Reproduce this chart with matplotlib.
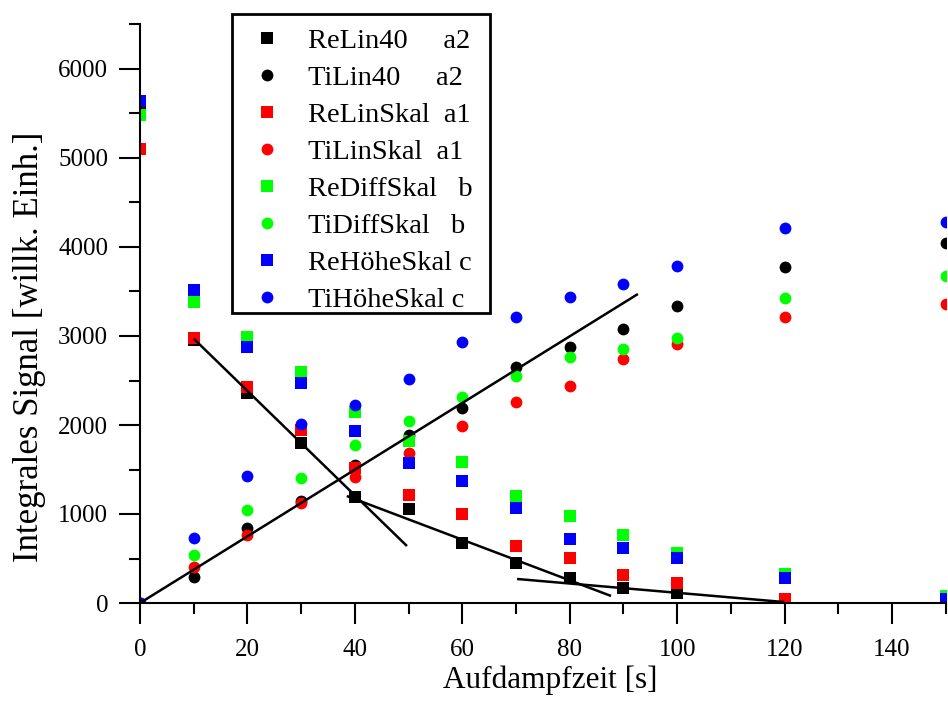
import matplotlib
matplotlib.use("Agg")
from matplotlib import pyplot as plt
from matplotlib.patches import Rectangle
from matplotlib.ticker import MultipleLocator

plt.rcParams['font.family'] = ['Liberation Serif', 'DejaVu Serif']

# Aufdampfzeit [s]
times = [0, 10, 20, 30, 40, 50, 60, 70, 80, 90, 100, 120, 150]

# integrated signal
re_lin40 = [5580, 2960, 2360, 1798, 1191, 1056, 674, 449, 281, 169, 112, 10, 5]
ti_lin40 = [0, 292, 843, 1146, 1551, 1888, 2191, 2652, 2876, 3079, 3337, 3775, 4045]
re_lin_skal = [5101, 2978, 2427, 1944, 1517, 1213, 1000, 640, 506, 315, 225, 40, 10]
ti_lin_skal = [0, 404, 764, 1124, 1416, 1685, 1989, 2258, 2438, 2742, 2910, 3213, 3360]
re_diff_skal = [5483, 3385, 2989, 2596, 2146, 1820, 1584, 1202, 978, 764, 562, 326, 80]
ti_diff_skal = [0, 539, 1045, 1404, 1775, 2045, 2315, 2551, 2764, 2854, 2978, 3427, 3674]
re_hoehe_skal = [5640, 3517, 2876, 2472, 1933, 1573, 1371, 1067, 719, 618, 506, 281, 40]
ti_hoehe_skal = [0, 730, 1427, 2011, 2225, 2517, 2933, 3213, 3438, 3584, 3787, 4213, 4281]

labels = ['ReLin40     a2', 'TiLin40     a2', 'ReLinSkal  a1', 'TiLinSkal  a1',
          'ReDiffSkal   b', 'TiDiffSkal   b', 'ReHöheSkal c', 'TiHöheSkal c']

# straight fit segments drawn on top (start/end points)
fit_x = [[0, 92.7], [10, 49.7], [38.5, 87.7], [70.2, 119.9]]
fit_y = [[0, 3472], [2970, 640], [1202, 79], [270, 11]]

series = [re_lin40, ti_lin40, re_lin_skal, ti_lin_skal,
          re_diff_skal, ti_diff_skal, re_hoehe_skal, ti_hoehe_skal]
colors = ['#000000', '#000000', '#ff0000', '#ff0000',
          '#00ff00', '#00ff00', '#0000ff', '#0000ff']
markers = ['s', 'o', 's', 'o', 's', 'o', 's', 'o']

W, H = 948, 703
fig = plt.figure(figsize=(W / 100, H / 100), dpi=100)
ax = fig.add_axes([140 / W, 100 / H, 805.7 / W, 578.5 / H])

for vals, col, mk, lab in zip(series, colors, markers, labels):
    ax.plot(times, vals, ls='none', marker=mk, ms=8.5, color=col,
            markeredgewidth=0, label=lab)

for fx, fy in zip(fit_x, fit_y):
    ax.plot(fx, fy, color='black', lw=1.8, solid_capstyle='butt')

ax.set_xlim(0, 150)
ax.set_ylim(0, 6500)

ax.xaxis.set_major_locator(MultipleLocator(20))
ax.xaxis.set_minor_locator(MultipleLocator(10))
ax.yaxis.set_major_locator(MultipleLocator(1000))
ax.yaxis.set_minor_locator(MultipleLocator(500))

ax.tick_params(which='major', direction='out', length=15, width=1.5, labelsize=18, pad=8)
ax.tick_params(which='minor', direction='out', length=8, width=1.5)
ax.tick_params(axis='x', which='major', pad=11)

for side in ['top', 'right']:
    ax.spines[side].set_visible(False)
for side in ['left', 'bottom']:
    ax.spines[side].set_linewidth(1.5)

ax.set_xlabel('Aufdampfzeit [s]', fontsize=22.5, labelpad=3)
ax.xaxis.label.set_x(0.509)
ax.set_ylabel('Integrales Signal [willk. Einh.]', fontsize=25, labelpad=9)
ax.yaxis.label.set_y(0.443)

# legend box drawn separately (the original has a tighter bottom margin)
box = Rectangle((232 / W, 1 - 313 / H), 258 / W, 299 / H, transform=fig.transFigure,
                facecolor='white', edgecolor='black', lw=2.0, zorder=4, clip_on=False)
ax.add_artist(box)

leg = ax.legend(loc='upper left', bbox_to_anchor=(232 / W, 1 - 14 / H),
                bbox_transform=fig.transFigure, fontsize=20.5, frameon=False,
                borderaxespad=0, borderpad=0.5, handlelength=1.47,
                handletextpad=0.71, labelspacing=0.39, numpoints=1)
leg.set_zorder(5)

fig.savefig('out.png', dpi=100)
